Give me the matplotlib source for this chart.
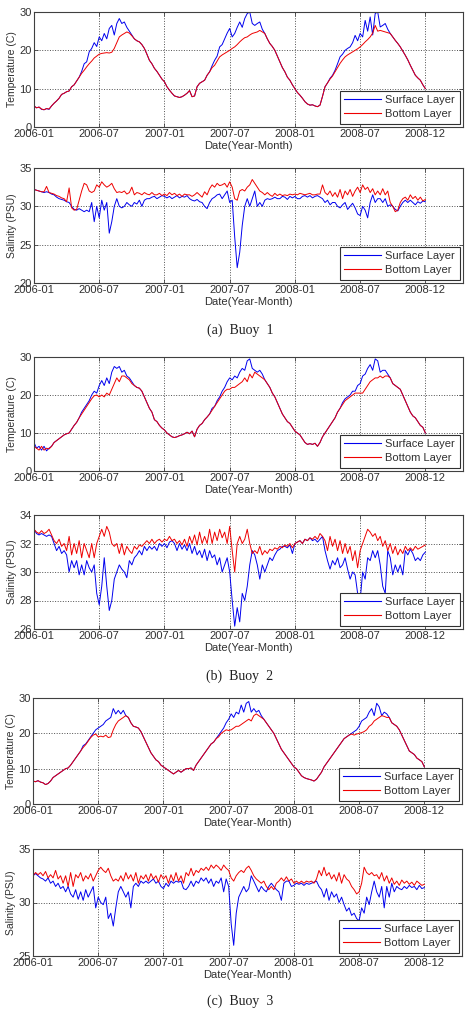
import numpy as np
import matplotlib
matplotlib.use('Agg')
import matplotlib.pyplot as plt

plt.rcParams['font.family'] = ['Liberation Sans', 'DejaVu Sans']

# weekly values, starting 2006-01-01
tick_labels = ['2006-01', '2006-07', '2007-01', '2007-07', '2008-01', '2008-07', '2008-12']
captions = ['(a)  Buoy  1', '(b)  Buoy  2', '(c)  Buoy  3']

temp1_surface = [
    5.5, 5.0, 5.2, 4.6, 4.5, 4.8, 4.6, 5.5, 6.2, 6.8,
    7.5, 8.5, 8.8, 9.2, 9.4, 10.5, 11.0, 12.0, 13.0, 14.5,
    16.5, 17.0, 19.6, 20.5, 22.0, 21.0, 23.5, 22.5, 24.4, 23.0,
    25.7, 26.5, 24.0, 27.0, 28.3, 27.0, 27.4, 26.0, 25.0, 24.0,
    23.0, 22.5, 22.2, 21.5, 20.5, 19.0, 17.4, 16.5, 15.3, 14.5,
    13.5, 12.5, 11.8, 10.5, 9.6, 8.8, 8.1, 7.9, 7.7, 7.9,
    8.3, 8.8, 9.5, 7.9, 8.1, 10.5, 11.4, 11.8, 12.2, 13.5,
    14.4, 16.0, 17.4, 18.5, 20.9, 21.5, 23.0, 24.5, 25.7, 23.5,
    24.4, 26.0, 27.4, 26.0, 28.3, 29.6, 30.0, 27.0, 26.5, 27.0,
    27.4, 25.5, 24.4, 23.0, 21.8, 21.0, 20.0, 18.5, 17.0, 15.5,
    14.4, 13.0, 12.2, 11.0, 10.0, 9.0, 8.3, 7.5, 6.6, 6.0,
    5.7, 5.8, 5.5, 5.3, 5.7, 8.0, 10.5, 11.5, 12.7, 13.5,
    14.8, 16.5, 18.3, 19.0, 20.0, 20.5, 20.9, 22.0, 23.9, 22.5,
    24.4, 23.5, 27.8, 25.0, 28.7, 24.0, 29.6, 30.0, 26.1, 26.5,
    27.0, 25.5, 24.4, 23.5, 22.6, 21.8, 20.9, 19.8, 18.7, 17.5,
    16.1, 14.8, 13.5, 12.8, 12.2, 11.0, 10.0]
temp1_bottom = [
    5.5, 5.0, 5.2, 4.7, 4.5, 4.8, 4.7, 5.5, 6.2, 6.8,
    7.5, 8.5, 8.8, 9.2, 9.4, 10.5, 11.0, 12.0, 13.0, 14.0,
    14.8, 15.7, 16.5, 17.2, 18.0, 18.5, 19.0, 19.2, 19.3, 19.4,
    19.3, 19.5, 20.5, 22.0, 23.5, 24.0, 24.4, 24.8, 24.5, 23.8,
    23.0, 22.5, 22.2, 21.5, 20.5, 19.0, 17.4, 16.5, 15.3, 14.5,
    13.5, 12.5, 11.8, 10.5, 9.6, 8.8, 8.1, 7.9, 7.7, 7.9,
    8.3, 8.8, 9.5, 7.9, 8.1, 10.5, 11.4, 11.8, 12.2, 13.5,
    14.4, 15.5, 16.1, 17.2, 18.3, 18.8, 19.2, 19.6, 20.0, 20.5,
    20.9, 21.5, 22.2, 22.8, 23.3, 23.5, 24.0, 24.4, 24.6, 24.8,
    25.2, 24.8, 24.4, 23.0, 21.8, 21.0, 20.0, 18.5, 17.0, 15.5,
    14.4, 13.0, 12.2, 11.0, 10.0, 9.0, 8.3, 7.5, 6.6, 6.0,
    5.7, 5.8, 5.5, 5.3, 5.7, 8.0, 10.5, 11.5, 12.5, 13.3,
    14.4, 15.5, 16.6, 17.5, 18.3, 18.8, 19.2, 19.6, 20.0, 20.4,
    20.9, 21.5, 22.2, 22.8, 23.5, 24.5, 26.5, 25.0, 25.2, 25.0,
    24.8, 24.6, 24.4, 23.5, 22.6, 21.8, 20.9, 19.8, 18.7, 17.5,
    16.1, 14.8, 13.5, 12.8, 12.2, 11.0, 10.0]
sal1_surface = [
    32.2, 32.1, 32.0, 31.9, 31.8, 31.9, 31.8, 31.6, 31.5, 31.2,
    31.0, 30.9, 30.8, 30.6, 30.5, 30.0, 29.6, 29.5, 29.7, 29.5,
    29.3, 29.5, 29.3, 30.5, 28.0, 30.0, 28.5, 30.8, 29.5, 30.5,
    26.5, 28.0, 30.0, 31.0, 30.0, 29.8, 30.0, 30.5, 30.2, 30.0,
    30.5, 30.3, 30.8, 30.0, 30.8, 31.0, 31.0, 31.2, 31.3, 31.0,
    31.2, 31.4, 31.3, 31.1, 31.3, 31.0, 31.2, 31.4, 31.1, 31.3,
    31.2, 31.4, 31.0, 30.8, 30.7, 30.9, 30.6, 30.5, 30.0, 29.7,
    30.5, 31.0, 31.2, 31.5, 31.6, 31.0, 31.5, 32.0, 30.5, 30.8,
    26.0, 22.0, 24.0, 27.5, 30.0, 31.0, 30.0, 31.0, 32.0, 30.0,
    30.5, 30.0, 30.8, 31.0, 30.9, 31.0, 31.2, 31.0, 31.0, 31.3,
    31.2, 30.9, 31.3, 31.1, 31.3, 31.0, 31.0, 31.3, 31.4, 31.2,
    31.4, 31.1, 31.3, 31.4, 31.2, 31.0, 30.5, 30.8, 30.2, 30.5,
    30.5, 30.0, 29.8, 30.2, 30.5, 29.6, 30.0, 30.4, 29.8, 29.0,
    28.8, 30.0, 29.5, 28.5, 30.5, 31.5, 30.5, 31.0, 31.0, 30.5,
    31.0, 30.0, 30.2, 30.0, 29.6, 29.4, 30.0, 30.5, 30.8, 30.5,
    30.8, 30.5, 30.2, 30.6, 30.4, 30.7, 30.6]
sal1_bottom = [
    32.2, 32.1, 32.0, 31.9, 31.9, 32.6, 31.8, 31.7, 31.6, 31.4,
    31.3, 31.1, 31.0, 30.6, 32.4, 29.8, 29.5, 29.6, 30.8, 32.0,
    33.0, 32.8, 32.0, 31.8, 32.0, 32.8, 32.5, 33.2, 32.8, 32.5,
    32.7, 33.0, 32.3, 31.8, 31.9, 31.8, 32.0, 31.6, 31.8, 32.5,
    31.5, 31.8, 31.7, 31.5, 31.8, 31.6, 31.5, 31.8, 31.5, 31.5,
    31.7, 31.4, 31.6, 31.4, 31.8, 31.5, 31.7, 31.4, 31.6, 31.3,
    31.6, 31.5, 31.5, 31.3, 31.5, 31.8, 31.5, 31.2, 31.9, 31.5,
    32.3, 32.8, 32.5, 33.0, 32.7, 32.8, 33.0, 32.5, 33.2, 32.5,
    31.0, 30.8, 32.0, 32.2, 32.0, 32.5, 32.8, 33.5, 33.0, 32.5,
    32.0, 31.8, 31.5, 31.8, 31.5, 31.3, 31.7, 31.4, 31.6, 31.4,
    31.5, 31.4, 31.6, 31.5, 31.6, 31.5, 31.7, 31.6, 31.5, 31.6,
    31.7, 31.5, 31.5, 31.6, 31.6, 32.8, 31.8, 31.5, 32.0, 31.3,
    31.8, 31.2, 32.2, 31.0, 32.0, 31.5, 32.2, 31.3, 32.0, 32.5,
    31.8, 32.8, 32.2, 32.5, 31.8, 32.3, 31.5, 32.0, 31.5, 32.3,
    31.5, 32.0, 30.5, 30.0, 29.3, 29.5, 30.5, 31.0, 31.2, 30.8,
    31.5, 31.0, 31.3, 30.8, 31.2, 30.7, 30.9]

temp2_surface = [
    7.5, 6.0, 6.5, 5.5, 6.5, 5.3, 6.0, 6.5, 7.5, 8.0,
    8.5, 9.0, 9.5, 9.8, 10.0, 11.0, 12.0, 12.8, 14.0, 15.5,
    16.5, 17.5, 18.5, 20.0, 21.0, 20.5, 22.5, 23.8, 22.5, 24.5,
    23.0, 26.0, 27.5, 27.0, 27.5, 26.0, 26.5, 25.0, 24.5, 23.5,
    22.5, 22.0, 21.8, 21.0, 19.5, 18.0, 16.5, 15.5, 13.5, 13.0,
    12.0, 11.3, 10.8, 10.0, 9.5, 9.0, 8.8, 9.0, 9.3, 9.5,
    9.8, 10.2, 9.8, 10.5, 9.0, 11.0, 12.0, 12.5, 13.5, 14.2,
    15.0, 16.5, 17.0, 18.5, 19.5, 21.0, 22.0, 23.5, 24.5, 24.0,
    25.0, 24.5, 26.0, 27.0, 26.5, 29.0, 29.5, 27.0, 26.5, 26.0,
    26.5, 25.5, 24.0, 23.0, 22.0, 20.5, 19.5, 18.0, 16.5, 15.0,
    14.0, 13.0, 12.5, 11.5, 10.5, 10.0, 9.5, 8.5, 7.5, 7.0,
    7.2, 7.0, 7.3, 6.5, 7.5, 9.0, 10.0, 11.0, 12.0, 13.0,
    14.0, 15.5, 16.5, 18.0, 19.0, 19.5, 20.0, 21.0, 21.0, 22.5,
    23.0, 25.0, 25.5, 27.0, 28.0, 26.5, 29.5, 29.0, 26.0, 26.5,
    26.5, 25.5, 24.5, 23.0, 22.5, 22.0, 21.5, 20.0, 18.5, 17.0,
    15.5, 14.5, 14.0, 13.0, 12.0, 11.5, 10.0]
temp2_bottom = [
    6.5, 6.0, 5.5, 6.5, 5.5, 6.0, 5.8, 6.5, 7.5, 8.0,
    8.5, 9.0, 9.5, 9.8, 10.0, 11.0, 12.0, 12.8, 14.0, 15.0,
    16.0, 17.0, 18.0, 19.0, 19.8, 20.0, 19.5, 20.0, 19.5, 20.5,
    20.0, 21.5, 23.0, 24.5, 23.5, 25.0, 25.0, 24.5, 24.0, 23.0,
    22.5, 22.0, 21.8, 21.0, 19.5, 18.0, 16.5, 15.5, 13.5, 13.0,
    12.0, 11.3, 10.8, 10.0, 9.5, 9.0, 8.8, 9.0, 9.3, 9.5,
    9.8, 10.2, 9.8, 10.5, 9.0, 11.0, 12.0, 12.5, 13.5, 14.2,
    15.0, 16.0, 17.0, 18.0, 19.0, 20.0, 21.0, 21.5, 21.5, 22.0,
    22.0, 22.5, 23.0, 23.5, 24.5, 23.5, 25.5, 24.5, 26.0, 25.5,
    25.0, 24.5, 24.0, 23.0, 22.0, 20.5, 19.5, 18.0, 16.5, 15.0,
    14.0, 13.0, 12.5, 11.5, 10.5, 10.0, 9.5, 8.5, 7.5, 7.0,
    7.2, 7.0, 7.3, 6.5, 7.5, 9.0, 10.0, 11.0, 12.0, 13.0,
    14.0, 15.5, 16.5, 17.5, 18.5, 19.0, 19.5, 20.0, 20.5, 20.5,
    20.5, 20.5, 21.5, 22.5, 23.5, 24.0, 24.5, 24.5, 25.0, 24.5,
    25.0, 25.0, 24.5, 23.0, 22.5, 22.0, 21.5, 20.0, 18.5, 17.0,
    15.5, 14.5, 14.0, 13.0, 12.0, 11.5, 10.0]
sal2_surface = [
    33.0, 32.7, 32.6, 32.7, 32.6, 32.5, 32.6, 32.5, 32.0, 31.5,
    31.8, 31.3, 31.5, 31.2, 30.0, 30.8, 30.3, 30.8, 29.8, 30.5,
    29.8, 30.8, 30.3, 30.0, 30.5, 28.5, 27.7, 29.0, 31.0, 29.0,
    27.3, 28.0, 29.5, 30.0, 30.5, 30.2, 30.0, 29.6, 30.8, 30.5,
    31.0, 31.2, 31.5, 31.2, 31.8, 31.5, 31.8, 31.6, 31.8, 31.5,
    32.0, 31.8, 32.0, 31.7, 32.1, 32.2, 32.0, 31.5, 32.0, 31.6,
    31.9, 31.5, 32.0, 31.3, 31.8, 31.2, 31.5, 31.0, 31.6, 30.8,
    31.5, 31.0, 31.2, 30.5, 31.0, 30.0, 30.5, 31.0, 30.0, 28.0,
    26.2, 27.5, 26.5, 28.5, 28.0, 29.0, 30.5, 31.5, 31.2, 30.5,
    29.5, 30.5, 30.0, 30.5, 31.0, 30.8, 31.2, 31.5, 31.6, 31.8,
    31.8, 31.7, 31.9, 31.3, 32.0, 32.1, 32.2, 32.0, 32.3, 32.2,
    32.4, 32.2, 32.3, 32.1, 32.3, 32.5, 31.5, 30.8, 30.2, 30.8,
    30.5, 31.0, 30.3, 30.5, 31.0, 30.2, 29.5, 30.0, 29.8, 28.5,
    28.0, 30.0, 29.5, 31.0, 30.8, 31.5, 31.0, 31.5, 30.5, 29.0,
    28.5, 31.5, 31.0, 29.8, 30.5, 30.0, 30.5, 29.8, 31.5, 31.2,
    31.6, 31.3, 30.8, 31.0, 30.8, 31.2, 31.4]
sal2_bottom = [
    33.0, 32.8, 32.7, 32.9, 32.7, 32.8, 33.0, 32.6, 32.2, 32.0,
    32.3, 31.8, 32.0, 31.5, 32.5, 31.2, 32.0, 31.3, 32.2, 31.0,
    32.0, 31.5, 31.0, 32.0, 31.0, 32.0, 32.5, 33.0, 32.5, 33.2,
    32.8, 32.0, 31.8, 32.0, 31.3, 32.0, 31.2, 31.8, 31.5, 31.3,
    31.8, 31.6, 31.9, 31.8, 32.0, 32.2, 32.0, 32.3, 32.0, 32.2,
    32.3, 32.1, 32.3, 32.2, 32.5, 32.2, 32.3, 32.0, 32.2, 31.9,
    32.3, 31.8, 32.5, 32.0, 32.6, 31.9, 32.8, 32.0, 32.5, 32.0,
    33.0, 32.0, 32.8, 32.2, 33.0, 32.4, 32.8, 32.0, 33.2, 31.5,
    30.0, 32.0, 32.5, 32.0, 32.3, 33.0, 32.0, 31.3, 31.5, 31.3,
    31.8, 31.2, 31.5, 31.3, 31.6, 31.5, 31.7, 31.6, 31.8, 31.7,
    31.9, 31.8, 32.0, 31.7, 32.0, 32.1, 32.2, 32.0, 32.3, 32.2,
    32.4, 32.3, 32.5, 32.3, 32.7, 32.5, 32.2, 31.5, 32.5, 31.8,
    32.3, 31.5, 32.2, 31.3, 32.0, 31.3, 31.8, 30.8, 31.5, 30.3,
    31.5, 32.0, 32.5, 33.0, 32.8, 32.5, 32.7, 32.2, 32.5, 31.8,
    32.2, 31.5, 32.0, 31.3, 31.8, 31.2, 31.6, 31.3, 31.8, 31.5,
    31.7, 31.5, 31.8, 31.6, 31.7, 31.8, 31.9]

temp3_surface = [
    6.5, 6.3, 6.6, 6.2, 6.0, 5.5, 5.8, 6.5, 7.5, 8.0,
    8.5, 9.0, 9.5, 10.0, 10.2, 11.0, 12.0, 13.0, 14.0, 15.0,
    16.5, 17.0, 18.0, 19.0, 20.0, 21.0, 21.5, 22.0, 22.5, 23.5,
    24.0, 24.5, 27.0, 25.5, 26.5, 25.5, 26.5, 25.0, 24.5, 23.0,
    22.0, 21.8, 21.5, 20.5, 19.0, 17.5, 16.0, 14.5, 13.5, 12.5,
    12.0, 11.0, 10.5, 10.0, 9.5, 9.0, 8.5, 9.0, 9.5, 9.0,
    9.5, 10.0, 10.0, 10.2, 9.5, 11.0, 12.0, 13.0, 14.0, 15.0,
    16.0, 17.0, 17.5, 18.5, 19.5, 20.5, 21.5, 23.0, 24.0, 25.5,
    24.5, 26.0, 25.5, 28.0, 26.0, 28.5, 29.0, 26.0, 27.0, 26.0,
    26.5, 25.0, 24.0, 23.0, 22.0, 21.0, 20.0, 18.5, 17.0, 15.5,
    14.5, 13.5, 12.5, 11.5, 10.5, 10.0, 9.0, 8.0, 7.5, 7.2,
    7.0, 6.8, 6.5, 7.0, 8.0, 9.0, 10.5, 11.5, 12.5, 13.5,
    14.5, 15.5, 16.5, 17.5, 18.5, 19.0, 19.5, 20.0, 20.5, 21.0,
    22.0, 23.5, 24.0, 24.5, 26.0, 27.0, 25.0, 28.5, 27.5, 25.0,
    26.0, 25.5, 24.5, 23.0, 22.5, 22.0, 21.0, 19.5, 18.0, 16.5,
    15.0, 14.5, 14.0, 13.0, 12.5, 12.0, 10.5]
temp3_bottom = [
    6.5, 6.3, 6.6, 6.2, 6.0, 5.5, 5.8, 6.5, 7.5, 8.0,
    8.5, 9.0, 9.5, 10.0, 10.2, 11.0, 12.0, 13.0, 14.0, 15.0,
    16.0, 16.8, 17.8, 18.8, 19.5, 19.8, 19.0, 19.2, 19.0, 19.5,
    18.8, 19.0, 21.0, 22.5, 23.5, 24.0, 24.5, 25.0, 24.5, 23.0,
    22.0, 21.8, 21.5, 20.5, 19.0, 17.5, 16.0, 14.5, 13.5, 12.5,
    12.0, 11.0, 10.5, 10.0, 9.5, 9.0, 8.5, 9.0, 9.5, 9.0,
    9.5, 10.0, 10.0, 10.2, 9.5, 11.0, 12.0, 13.0, 14.0, 15.0,
    16.0, 17.0, 17.5, 18.5, 19.0, 20.0, 20.5, 21.0, 20.8, 21.0,
    21.5, 22.0, 22.0, 22.5, 23.0, 23.5, 24.0, 23.5, 25.0, 25.5,
    25.0, 24.5, 24.0, 23.0, 22.0, 21.0, 20.0, 18.5, 17.0, 15.5,
    14.5, 13.5, 12.5, 11.5, 10.5, 10.0, 9.0, 8.0, 7.5, 7.2,
    7.0, 6.8, 6.5, 7.0, 8.0, 9.0, 10.5, 11.5, 12.5, 13.5,
    14.5, 15.5, 16.5, 17.5, 18.5, 19.0, 19.5, 19.8, 19.5, 19.8,
    20.0, 20.2, 20.5, 21.0, 22.0, 22.5, 23.5, 24.0, 24.5, 25.0,
    24.8, 24.5, 24.5, 23.0, 22.5, 22.0, 21.0, 19.5, 18.0, 16.5,
    15.0, 14.5, 14.0, 13.0, 12.5, 12.0, 10.5]
sal3_surface = [
    32.5, 32.7, 32.5, 32.3, 32.2, 32.0, 32.3, 31.8, 32.0, 31.5,
    31.8, 31.3, 31.5, 31.0, 31.5, 30.8, 30.5, 31.2, 30.3, 31.0,
    30.2, 31.2, 30.5, 31.0, 31.5, 29.5, 30.5, 30.0, 29.8, 30.5,
    28.5, 29.0, 27.8, 29.5, 31.0, 31.5, 31.0, 30.5, 31.0, 29.5,
    31.5, 31.8, 31.5, 32.0, 31.8, 32.0, 31.8, 32.0, 32.2, 31.8,
    32.0, 31.5, 31.3, 31.8, 31.5, 32.0, 31.8, 32.0, 31.9, 32.0,
    31.3, 31.2, 31.5, 32.0, 31.5, 32.0, 31.8, 32.3, 32.0, 32.3,
    31.8, 32.2, 31.5, 32.0, 31.8, 32.3, 31.0, 32.2, 31.5, 28.0,
    26.0, 29.0, 30.5, 31.0, 31.5, 31.0, 31.3, 32.5, 32.0, 31.5,
    31.0, 31.5, 31.2, 31.0, 31.5, 31.8, 31.5, 31.2, 31.0, 30.2,
    31.8, 32.0, 32.0, 31.5, 31.6, 31.8, 31.7, 31.8, 31.6, 31.8,
    31.7, 31.8, 31.9, 32.0, 31.5, 31.2, 30.5, 31.3, 30.2, 31.0,
    30.5, 30.8, 30.0, 30.5, 29.8, 29.2, 29.5, 28.8, 29.0, 28.5,
    28.3, 29.5, 29.0, 30.5, 29.8, 31.0, 32.0, 31.0, 30.5, 31.5,
    29.5, 31.5, 30.5, 31.8, 31.0, 31.5, 31.3, 31.2, 31.5, 31.3,
    31.6, 31.4, 31.5, 31.2, 31.6, 31.3, 31.4]
sal3_bottom = [
    32.5, 32.8, 32.6, 32.8, 32.5, 32.9, 32.3, 32.6, 32.3, 33.0,
    32.2, 32.5, 31.8, 32.5, 31.5, 32.8, 31.5, 32.6, 32.3, 32.8,
    32.0, 32.5, 32.2, 32.7, 32.0, 32.5, 33.0, 33.3, 33.0, 32.8,
    33.2, 32.5, 32.0, 32.2, 32.0, 32.5, 32.0, 32.8, 32.2, 32.6,
    32.0, 32.8, 31.8, 32.5, 32.2, 32.6, 32.0, 32.7, 32.2, 32.5,
    31.9, 32.6, 32.2, 32.5, 31.8, 32.6, 32.0, 32.8, 32.0, 32.5,
    31.8, 32.8, 32.5, 33.2, 32.5, 33.0, 32.8, 33.2, 33.0, 33.3,
    33.0, 33.5, 33.2, 33.5, 33.3, 33.0, 33.5, 33.2, 33.0, 32.3,
    32.0, 32.5, 32.8, 33.0, 32.8, 33.2, 33.4, 33.0, 32.5, 32.2,
    32.0, 31.8, 32.0, 31.5, 31.2, 31.5, 31.2, 31.8, 32.0, 32.3,
    32.0, 32.4, 32.0, 32.2, 31.8, 32.0, 31.8, 32.0, 31.8, 32.0,
    31.9, 32.0, 31.8, 32.2, 33.0, 32.5, 33.3, 32.5, 32.8, 32.2,
    32.6, 32.0, 32.8, 31.8, 32.6, 32.2, 32.0, 31.5, 31.2, 30.8,
    31.0, 31.8, 33.3, 32.8, 32.6, 32.8, 32.5, 32.6, 32.2, 32.8,
    32.0, 32.5, 31.8, 32.3, 31.7, 32.0, 31.6, 32.1, 31.8, 32.0,
    31.7, 31.9, 31.6, 32.0, 31.8, 31.6, 31.7]

W, H = 468, 1011
fig = plt.figure(figsize=(W / 100, H / 100), dpi=100)

# panel boxes in pixels: left, right, top, bottom
boxes = [(34, 463, 12, 127), (34, 463, 168, 283),
         (34, 463, 357, 471), (34, 463, 515, 629),
         (33, 462, 698, 804), (33, 462, 849, 956)]
series = [(temp1_surface, temp1_bottom), (sal1_surface, sal1_bottom),
          (temp2_surface, temp2_bottom), (sal2_surface, sal2_bottom),
          (temp3_surface, temp3_bottom), (sal3_surface, sal3_bottom)]
ylims = [(0, 30), (20, 35), (0, 30), (26, 34), (0, 30), (25, 35)]
yticks = [[0, 10, 20, 30], [20, 25, 30, 35], [0, 10, 20, 30],
          [26, 28, 30, 32, 34], [0, 10, 20, 30], [25, 30, 35]]
ylabels = ['Temperature (C)', 'Salinity (PSU)'] * 3
caption_y = [330, 676, 1001]

txt = '#303030'
blue, red = '#0000ee', '#ee0000'
for k in range(6):
    l, r, t, b = boxes[k]
    ax = fig.add_axes([l / W, 1 - b / H, (r - l) / W, (b - t) / H])
    surf, bot = series[k]
    ax.plot(np.arange(len(surf)) * 7, surf, color=blue, lw=0.7, label='Surface Layer')
    ax.plot(np.arange(len(bot)) * 7, bot, color=red, lw=0.7, label='Bottom Layer')
    ax.set_xlim(0, 1197)
    ax.set_ylim(*ylims[k])
    ax.set_xticks(np.arange(7) * 182)
    ax.set_xticklabels(tick_labels)
    ax.set_yticks(yticks[k])
    ax.grid(True, linestyle=':', color='#505050', lw=0.7)
    ax.tick_params(direction='in', length=3, width=0.6, top=True, right=True,
                   labelsize=8, labelcolor=txt, color='#404040', pad=1.5)
    for s in ax.spines.values():
        s.set_color('#404040')
        s.set_linewidth(0.8)
    ax.set_xlabel('Date(Year-Month)', fontsize=8, color=txt, labelpad=1.5)
    ax.set_ylabel(ylabels[k], fontsize=7.5, color=txt, labelpad=2)
    leg = ax.legend(loc='lower right', fontsize=8, fancybox=False, framealpha=1,
                    edgecolor='#303030', handlelength=3.3, handletextpad=0.4,
                    borderaxespad=0.3, labelspacing=0.35, borderpad=0.4)
    leg.get_frame().set_linewidth(0.8)
    for h, c in zip(leg.get_lines(), [blue, red]):
        h.set_color(c)
        h.set_linewidth(0.8)
    for tx in leg.get_texts():
        tx.set_color(txt)

for c, y in zip(captions, caption_y):
    fig.text(240 / W, 1 - y / H, c, family=['Liberation Serif', 'DejaVu Serif'],
             fontsize=10, ha='center', va='center', color='#202020')

fig.savefig('out.png', dpi=100)
